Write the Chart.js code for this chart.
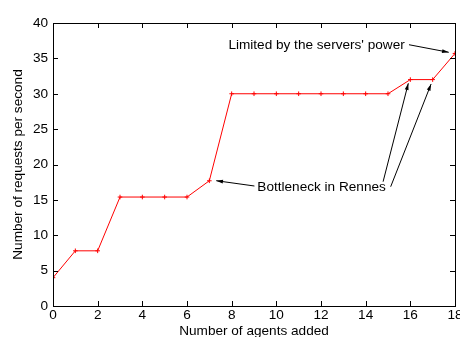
<!DOCTYPE html>
<html><head><meta charset="utf-8">
<script src="https://cdn.jsdelivr.net/npm/chart.js@4/dist/chart.umd.min.js"></script>
<style>html,body{margin:0;padding:0;background:#fff}#wrap{width:460px;height:337px}</style>
</head><body><div id="wrap"><canvas id="c" width="460" height="337"></canvas></div>
<script>
const agents = [0,1,2,3,4,5,6,7,8,9,10,11,12,13,14,15,16,17,18];
const requests = [4.0,7.8,7.8,15.4,15.4,15.4,15.4,17.7,30,30,30,30,30,30,30,30,32,32,35.7];
const xTicks = [0,2,4,6,8,10,12,14,16,18];
const yTicks = [0,5,10,15,20,25,30,35,40];
const labelServers = "Limited by the servers' power";
const labelBottleneck = "Bottleneck in Rennes";
// annotation anchors in data units
const serversText = {x:15.75, y:36.9};
const serversArrow = [[15.94,36.93],[17.72,35.86]];
const bottleText = {x:9.15, y:16.8};
const bottleArrows = [
  [[9.02,16.96],[7.31,17.71]],
  [[14.78,17.57],[15.91,31.48]],
  [[15.12,16.86],[16.93,31.38]]
];
const FONT = '"Liberation Sans", Arial, sans-serif';
const FS = 13.6;

function arrow(ctx, x1,y1,x2,y2){
  ctx.beginPath(); ctx.moveTo(x1,y1); ctx.lineTo(x2,y2); ctx.stroke();
  const a = Math.atan2(y2-y1,x2-x1), L=7, w=0.28;
  ctx.beginPath();
  ctx.moveTo(x2,y2);
  ctx.lineTo(x2-L*Math.cos(a-w), y2-L*Math.sin(a-w));
  ctx.lineTo(x2-L*Math.cos(a+w), y2-L*Math.sin(a+w));
  ctx.closePath(); ctx.fill();
}

const framePlugin = {
  id:'frame',
  afterDatasetsDraw(chart){
    const {ctx, chartArea:ca, scales:{x,y}} = chart;
    ctx.save();
    ctx.strokeStyle='#000'; ctx.lineWidth=1;
    ctx.strokeRect(Math.round(ca.left)+0.5, Math.round(ca.top)+0.5, Math.round(ca.right-ca.left), Math.round(ca.bottom-ca.top));
    ctx.beginPath();
    xTicks.forEach(v=>{const px=Math.round(x.getPixelForValue(v))+0.5;
      ctx.moveTo(px,ca.bottom); ctx.lineTo(px,ca.bottom-5);
      ctx.moveTo(px,ca.top); ctx.lineTo(px,ca.top+5);});
    yTicks.forEach(v=>{const py=Math.round(y.getPixelForValue(v))+0.5;
      ctx.moveTo(ca.left,py); ctx.lineTo(ca.left+5,py);
      ctx.moveTo(ca.right,py); ctx.lineTo(ca.right-5,py);});
    ctx.stroke();
    // annotations
    ctx.fillStyle='#000'; ctx.font=FS+'px '+FONT; ctx.textBaseline='middle';
    ctx.textAlign='right';
    ctx.fillText(labelServers, x.getPixelForValue(serversText.x), y.getPixelForValue(serversText.y));
    ctx.textAlign='left';
    ctx.fillText(labelBottleneck, x.getPixelForValue(bottleText.x), y.getPixelForValue(bottleText.y));
    const all=[serversArrow].concat(bottleArrows);
    all.forEach(([p,q])=>arrow(ctx, x.getPixelForValue(p[0]), y.getPixelForValue(p[1]), x.getPixelForValue(q[0]), y.getPixelForValue(q[1])));
    ctx.restore();
  }
};

new Chart(document.getElementById('c'), {
  type:'line',
  data:{labels:agents, datasets:[{data:agents.map((a,i)=>({x:a,y:requests[i]})),
    borderColor:'#ff0000', borderWidth:1, pointStyle:'cross', pointRadius:2.3,
    pointBorderColor:'#ff0000', pointBorderWidth:1, tension:0, fill:false}]},
  options:{
    responsive:false, animation:false, devicePixelRatio:1,
    layout:{padding:{top:23,right:4,left:0,bottom:0}},
    plugins:{legend:{display:false}, tooltip:{enabled:false}},
    scales:{
      x:{type:'linear', min:0, max:18,
        afterBuildTicks:s=>{s.ticks=xTicks.map(v=>({value:v}));},
        afterFit:s=>{s.height=31; s.paddingLeft=0; s.paddingRight=0;},
        grid:{display:false, drawTicks:false}, border:{display:false},
        ticks:{padding:1, color:'#000', font:{family:FONT,size:FS}},
        title:{display:true, text:'Number of agents added', color:'#000', font:{family:FONT,size:FS}, padding:{top:0,bottom:-2}}},
      y:{type:'linear', min:0, max:40,
        afterBuildTicks:s=>{s.ticks=yTicks.map(v=>({value:v}));},
        afterFit:s=>{s.width=53; s.paddingTop=0; s.paddingBottom=0;},
        grid:{display:false, drawTicks:false}, border:{display:false},
        ticks:{padding:5, color:'#000', font:{family:FONT,size:FS}},
        title:{display:true, text:'Number of requests per second', color:'#000', font:{family:FONT,size:FS}, padding:{top:10,bottom:0}}}
    }
  },
  plugins:[framePlugin]
});
</script></body></html>
